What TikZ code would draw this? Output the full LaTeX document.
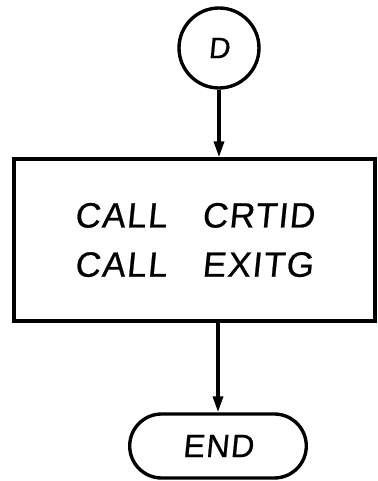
\documentclass[tikz,border=0pt]{standalone}
\usepackage{fontspec}
\newfontfamily\lettering[FakeSlant=0.1,LetterSpace=4,FakeBold=0.6]{Liberation Sans}
\usetikzlibrary{arrows.meta,shapes.misc}
\tikzset{
  box/.style={draw, line width=2.4pt, minimum width=9.025cm, minimum height=4.05cm, align=left, font=\lettering\fontsize{25}{35}\selectfont},
  con/.style={draw, circle, line width=2.4pt, minimum size=2cm, inner sep=0pt, font=\lettering\fontsize{21}{22}\selectfont},
  term/.style={draw, rounded rectangle, line width=2.4pt, minimum width=4.65cm, minimum height=1.6cm, font=\lettering\fontsize{23}{24}\selectfont},
  arr/.style={-{Triangle[length=0.4cm, width=0.25cm]}, line width=2.4pt},
}
\begin{document}
\begin{tikzpicture}
\useasboundingbox (0,0) rectangle (9.45,12.025);
\node[con] (d) at (5.475,10.825) {D};
\node[box] (call) at (4.8625,6.025) {CALL\hspace{1em}CRTID\\CALL\hspace{1em}EXITG};
\node[term] (e) at (5.45,0.875) {END};
\draw[arr] (d) -- (d |- call.north);
\draw[arr] (call.south -| e) -- (e.north);
\end{tikzpicture}
\end{document}
